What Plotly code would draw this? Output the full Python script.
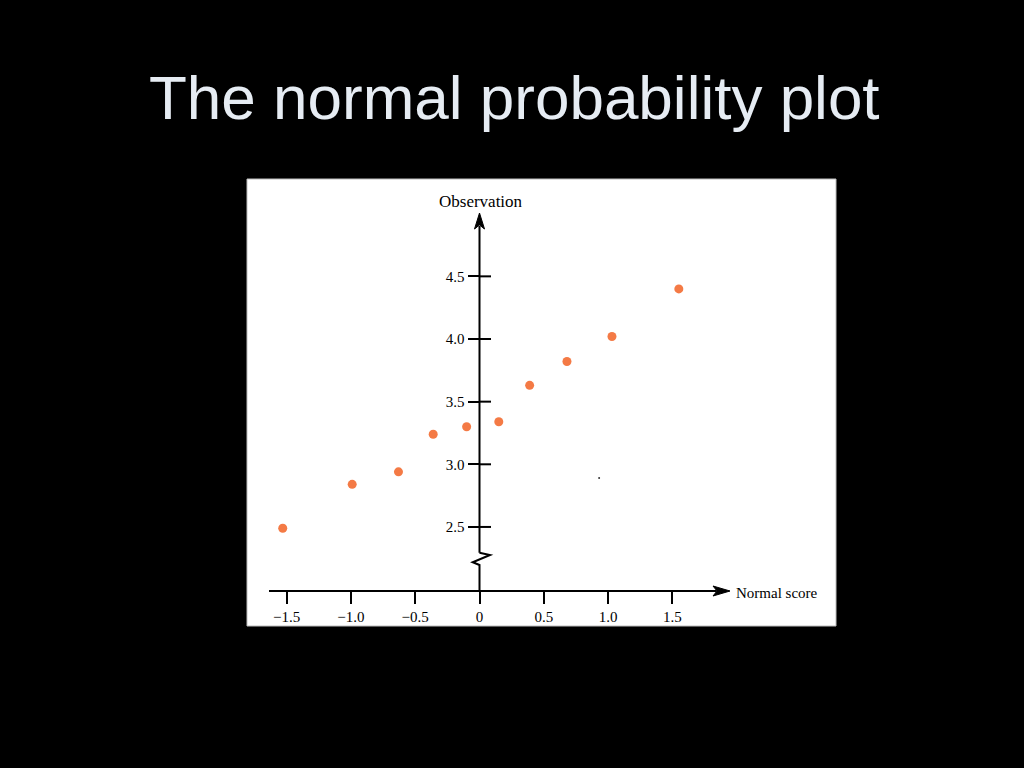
import plotly.graph_objects as go

# data
normal_score = [-1.53, -0.99, -0.63, -0.36, -0.10, 0.15, 0.39, 0.68, 1.03, 1.55]
observation = [2.49, 2.84, 2.94, 3.24, 3.30, 3.34, 3.63, 3.82, 4.02, 4.40]
# little speck on the scan
speck_x = [0.93]
speck_y = [2.89]

x_ticks = [-1.5, -1.0, -0.5, 0, 0.5, 1.0, 1.5]
x_tick_text = ["\u22121.5", "\u22121.0", "\u22120.5", "0", "0.5", "1.0", "1.5"]
y_ticks = [2.5, 3.0, 3.5, 4.0, 4.5]
y_tick_text = ["2.5", "3.0", "3.5", "4.0", "4.5"]

W, H = 1024, 768
# pixel scale of the scanned axes
X0PX, XSCALE = 479.5, 128.6
Y3PX, YSCALE = 464.3, 125.3


def dx(px):
    return (px - X0PX) / XSCALE


def dy(py):
    return 3 + (Y3PX - py) / YSCALE


def poly(pts, close=False):
    p = "M " + " L ".join(f"{dx(a)},{dy(b)}" for a, b in pts)
    return p + " Z" if close else p


fig = go.Figure()
fig.add_trace(go.Scatter(x=normal_score, y=observation, mode="markers",
                         marker=dict(color="#f47a45", size=9, symbol="circle"),
                         showlegend=False, hoverinfo="x+y"))
fig.add_trace(go.Scatter(x=speck_x, y=speck_y, mode="markers",
                         marker=dict(color="#333333", size=2),
                         showlegend=False, hoverinfo="skip"))

shapes = []
# white panel
shapes.append(dict(type="rect", xref="paper", yref="paper", layer="below",
                   x0=247 / W, x1=836 / W, y0=1 - 626 / H, y1=1 - 179 / H,
                   fillcolor="white", line=dict(color="#bdbdbd", width=1)))
ax_line = dict(color="black", width=2)
# x axis line
yb = dy(591)
shapes.append(dict(type="line", x0=dx(269), x1=dx(716), y0=yb, y1=yb, line=ax_line))
# y axis: upper part, break zigzag, lower part
shapes.append(dict(type="line", x0=0, x1=0, y0=dy(552.7), y1=dy(226), line=ax_line))
zig = [(479.5, 552.7), (490, 555), (472.7, 562.3), (479.5, 565), (479.5, 591)]
shapes.append(dict(type="path", path=poly(zig), line=ax_line))
# arrow heads
up = [(479.5, 213), (484.5, 229), (479.5, 225), (474.5, 229)]
shapes.append(dict(type="path", path=poly(up, True),
                   fillcolor="black", line=dict(color="black", width=1)))
right = [(730, 591), (713, 586), (717, 591), (713, 596)]
shapes.append(dict(type="path", path=poly(right, True),
                   fillcolor="black", line=dict(color="black", width=1)))
# right half of the y ticks (ticks cross the axis)
for t in y_ticks:
    shapes.append(dict(type="line", x0=0, x1=dx(491), y0=t, y1=t, line=ax_line))

serif = "Liberation Serif, Times New Roman, serif"
annotations = [
    dict(text="The normal probability plot", xref="paper", yref="paper",
         x=514 / W, y=1 - 97 / H, xanchor="center", yanchor="middle", showarrow=False,
         font=dict(family="Liberation Sans, Arial, sans-serif", size=62, color="#e6ecf3")),
    dict(text="Observation", xref="paper", yref="paper",
         x=481 / W, y=1 - 201 / H, xanchor="center", yanchor="middle", showarrow=False,
         font=dict(family=serif, size=17, color="black")),
    dict(text="Normal score", xref="paper", yref="paper",
         x=734 / W, y=1 - 593 / H, xanchor="left", yanchor="middle", showarrow=False,
         font=dict(family=serif, size=15, color="black")),
]

fig.update_layout(
    width=W, height=H, autosize=False,
    margin=dict(l=0, r=0, t=0, b=0),
    paper_bgcolor="black", plot_bgcolor="black",
    shapes=shapes, annotations=annotations,
    xaxis=dict(range=[dx(0), dx(W)], anchor="free", position=1 - 591 / H,
               showgrid=False, zeroline=False, showline=False,
               tickvals=x_ticks, ticktext=x_tick_text,
               ticks="outside", ticklen=12, tickwidth=2, tickcolor="black",
               tickfont=dict(family=serif, size=15, color="black")),
    yaxis=dict(range=[dy(H), dy(0)], anchor="free", position=X0PX / W,
               showgrid=False, zeroline=False, showline=False,
               tickvals=y_ticks, ticktext=y_tick_text,
               ticks="outside", ticklen=12, tickwidth=2, tickcolor="black",
               tickfont=dict(family=serif, size=15, color="black")),
)

# page has an 8px body margin by default; drop it so the figure fills the window
fig.write_html("out.html", config={"displayModeBar": False},
               post_script="document.body.style.margin='0';")
